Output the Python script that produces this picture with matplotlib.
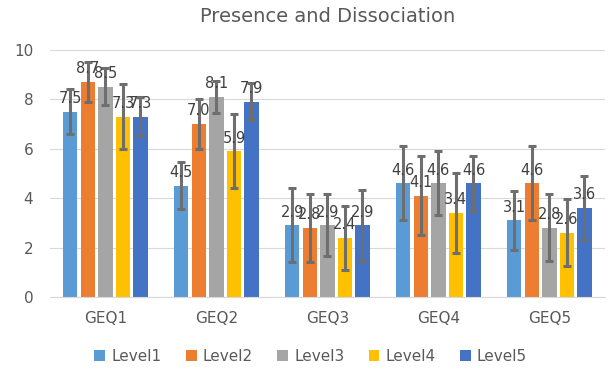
import numpy as np
import matplotlib.pyplot as plt

groups = ["GEQ1", "GEQ2", "GEQ3", "GEQ4", "GEQ5"]
levels = ["Level1", "Level2", "Level3", "Level4", "Level5"]
colors = ["#5B9BD5", "#ED7D31", "#A5A5A5", "#FFC000", "#4472C4"]

# one list per level, values for GEQ1..GEQ5
level1 = [7.5, 4.5, 2.9, 4.6, 3.1]
level2 = [8.7, 7.0, 2.8, 4.1, 4.6]
level3 = [8.5, 8.1, 2.9, 4.6, 2.8]
level4 = [7.3, 5.9, 2.4, 3.4, 2.6]
level5 = [7.3, 7.9, 2.9, 4.6, 3.6]

err1 = [0.9, 0.95, 1.5, 1.5, 1.2]
err2 = [0.8, 1.0, 1.37, 1.6, 1.5]
err3 = [0.75, 0.65, 1.25, 1.3, 1.35]
err4 = [1.3, 1.5, 1.3, 1.6, 1.35]
err5 = [0.78, 0.75, 1.43, 1.1, 1.3]

values = [level1, level2, level3, level4, level5]
errors = [err1, err2, err3, err4, err5]

txt = "#595959"
fig = plt.figure(figsize=(6.16, 3.75), dpi=100)
ax = fig.add_axes([0.081, 0.208, 0.901, 0.659])

x = np.arange(len(groups))
step = 0.158
width = 0.128
for i in range(5):
    pos = x + (i - 2) * step
    ax.bar(pos, values[i], width, color=colors[i], label=levels[i], zorder=2)
    ax.errorbar(pos, values[i], yerr=errors[i], fmt="none", ecolor="#6E6E6E",
                elinewidth=2.2, capsize=3, capthick=2.2, zorder=3)
    for p, v in zip(pos, values[i]):
        ax.annotate("%.1f" % v, (p, v), xytext=(0, 4), textcoords="offset points",
                    ha="center", va="bottom", fontsize=10.5, color="#404040", zorder=4)

ax.set_ylim(0, 10)
ax.set_xlim(-0.5, 4.5)
ax.set_yticks([0, 2, 4, 6, 8, 10])
ax.set_xticks(x)
ax.set_xticklabels(groups)
ax.grid(axis="y", color="#D9D9D9", linewidth=0.8, zorder=0)
ax.set_axisbelow(True)
for s in ["top", "right", "left"]:
    ax.spines[s].set_visible(False)
ax.spines["bottom"].set_color("#D9D9D9")
ax.tick_params(axis="both", length=0, labelsize=11, colors=txt, pad=10)
ax.tick_params(axis="y", pad=12)

ax.set_title("Presence and Dissociation", fontsize=14, color=txt, pad=20)
ax.legend(loc="upper center", bbox_to_anchor=(0.47, -0.155), ncol=5, frameon=False,
          fontsize=11, labelcolor=txt, handlelength=0.7, handleheight=0.7,
          columnspacing=1.6, handletextpad=0.4)

fig.savefig("out.png", dpi=100)
